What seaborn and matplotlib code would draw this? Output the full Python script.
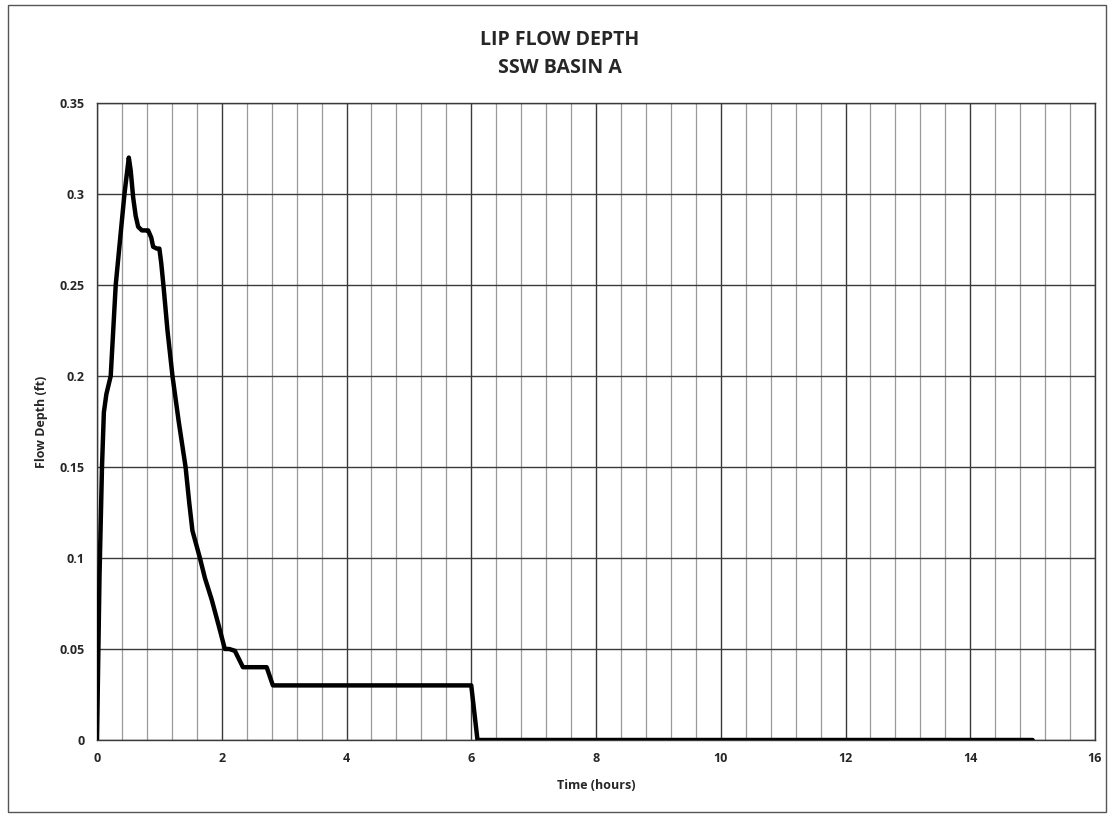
import matplotlib
matplotlib.use("Agg")
import matplotlib.pyplot as plt
import seaborn as sns
import numpy as np
import pandas as pd
from matplotlib.ticker import MultipleLocator
from matplotlib.patches import Rectangle

# Data
time_hours = [0.0, 0.04, 0.08, 0.11, 0.15, 0.22, 0.30, 0.37, 0.44, 0.51,
              0.54, 0.58, 0.62, 0.66, 0.72, 0.78, 0.82, 0.87, 0.90, 0.96, 1.00,
              1.03, 1.07, 1.13, 1.21, 1.31, 1.42, 1.48, 1.53, 1.57, 1.65, 1.73,
              1.84, 1.95, 2.05, 2.12, 2.21, 2.34, 2.50, 2.65, 2.72, 2.82,
              4.00, 5.00, 6.00, 6.10, 8.00, 10.00, 12.00, 14.00, 15.00]
flow_depth = [0.0, 0.09, 0.15, 0.18, 0.19, 0.20, 0.25, 0.275, 0.30, 0.32,
              0.313, 0.298, 0.288, 0.282, 0.280, 0.280, 0.280, 0.276, 0.271, 0.270, 0.270,
              0.262, 0.248, 0.225, 0.200, 0.175, 0.150, 0.130, 0.115, 0.110, 0.100, 0.089,
              0.077, 0.063, 0.050, 0.050, 0.049, 0.040, 0.040, 0.040, 0.040, 0.030,
              0.030, 0.030, 0.030, 0.0, 0.0, 0.0, 0.0, 0.0, 0.0]

title_lines = ["LIP FLOW DEPTH", "SSW BASIN A"]
x_label = "Time (hours)"
y_label = "Flow Depth (ft)"

df = pd.DataFrame({"Time (hours)": time_hours, "Flow Depth (ft)": flow_depth})

sns.set_theme(style="white")
plt.rcParams["font.family"] = ["Open Sans", "DejaVu Sans"]

fig = plt.figure(figsize=(11.14, 8.17), dpi=100)
ax = fig.add_axes([97 / 1114, 1 - 740 / 817, (1095 - 97) / 1114, (740 - 103) / 817])

# outer chart border
fig.patches.append(Rectangle((8 / 1114, 5 / 817), 1098 / 1114, 807 / 817,
                             transform=fig.transFigure, fill=False,
                             edgecolor="#555555", linewidth=1.0))

sns.lineplot(data=df, x="Time (hours)", y="Flow Depth (ft)", ax=ax,
             color="black", linewidth=3.2, zorder=5)

ax.set_xlim(0, 16)
ax.set_ylim(0, 0.35)
ax.xaxis.set_major_locator(MultipleLocator(2))
ax.xaxis.set_minor_locator(MultipleLocator(0.4))
ax.yaxis.set_major_locator(MultipleLocator(0.05))

ax.grid(which="major", axis="both", color="#3a3a3a", linewidth=1.0)
ax.grid(which="minor", axis="x", color="#9a9a9a", linewidth=0.9)
ax.set_axisbelow(True)

for s in ax.spines.values():
    s.set_color("#3a3a3a")
    s.set_linewidth(1.0)

ax.tick_params(axis="both", which="major", length=4, width=1, color="#3a3a3a",
               labelsize=9, pad=5)
ax.tick_params(axis="x", which="minor", length=0)

ax.set_yticks(np.arange(0, 0.351, 0.05))
ax.set_yticklabels(["0", "0.05", "0.1", "0.15", "0.2", "0.25", "0.3", "0.35"],
                   fontweight="bold")
ax.set_xticks(np.arange(0, 16.1, 2))
ax.set_xticklabels([str(v) for v in range(0, 17, 2)], fontweight="bold")

ax.set_xlabel(x_label, fontsize=9, fontweight="bold", labelpad=10)
ax.set_ylabel(y_label, fontsize=9, fontweight="bold", labelpad=8)

fig.text(560 / 1114, 1 - 40 / 817, title_lines[0], ha="center", va="center",
         fontsize=14, fontweight="bold", family=["Open Sans", "DejaVu Sans"])
fig.text(560 / 1114, 1 - 68 / 817, title_lines[1], ha="center", va="center",
         fontsize=14, fontweight="bold", family=["Open Sans", "DejaVu Sans"])

fig.savefig("out.png", dpi=100)
